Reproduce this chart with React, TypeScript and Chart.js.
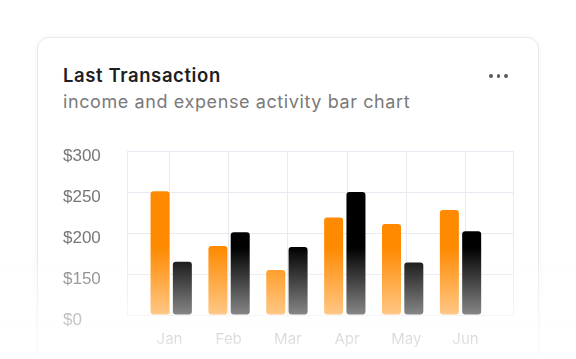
import React, { useEffect, useRef } from "react";
import { Chart, registerables } from "chart.js";

Chart.register(...registerables);

const months = ["Jan", "Feb", "Mar", "Apr", "May", "Jun"];
const income = [251, 184, 155, 219, 211, 228];
const expense = [165, 201, 183, 250, 164, 202];
const yTickValues = [100, 150, 200, 250, 300];
const yTickLabels = ["$0", "$150", "$200", "$250", "$300"];

const GRID = "#E7EAF0";
const UI_FONT = "Inter, 'Noto Sans', sans-serif";

export default function App() {
  const canvasRef = useRef<HTMLCanvasElement | null>(null);

  useEffect(() => {
    if (!canvasRef.current) return;
    const chart = new Chart(canvasRef.current, {
      type: "bar",
      data: {
        datasets: [
          {
            label: "Income",
            data: income.map((v, i) => ({ x: i, y: v })),
            backgroundColor: "#FF8A00",
            xAxisID: "xb",
            yAxisID: "y",
            base: 100,
          },
          {
            label: "Expense",
            data: expense.map((v, i) => ({ x: i, y: v })),
            backgroundColor: "#000000",
            xAxisID: "xb",
            yAxisID: "y",
            base: 100,
          },
        ],
      } as any,
      options: {
        responsive: false,
        animation: false,
        layout: { padding: { left: 63, right: 63, top: 151, bottom: 0 } },
        plugins: { legend: { display: false }, tooltip: { enabled: false } },
        datasets: {
          bar: {
            categoryPercentage: 0.771,
            barPercentage: 0.852,
            borderRadius: 3,
            borderSkipped: false,
          },
        },
        scales: {
          xb: {
            type: "linear",
            display: false,
            offset: false,
            min: -0.764,
            max: 5.907,
            ticks: { stepSize: 1, includeBounds: false },
            grid: { display: false, offset: false },
          },
          x: {
            type: "linear",
            position: "bottom",
            offset: false,
            min: -0.718,
            max: 5.802,
            ticks: {
              stepSize: 1,
              includeBounds: false,
              autoSkip: false,
              maxRotation: 0,
              padding: 15,
              color: "#8a8a8a",
              font: { family: UI_FONT, size: 15 },
              callback: (v: any) => (Number.isInteger(v) && months[v] ? months[v] : ""),
            },
            grid: { color: GRID, drawTicks: false, lineWidth: 1, offset: false },
            border: { display: false },
            afterFit: (s: any) => {
              s.height = 44;
            },
          },
          y: {
            type: "linear",
            position: "left",
            min: 100,
            max: 300,
            ticks: {
              stepSize: 50,
              padding: 0,
              crossAlign: "far",
              labelOffset: 5,
              color: "#777777",
              font: { family: "'Liberation Sans', Arial, sans-serif", size: 17 },
              callback: (v: any) => {
                const i = yTickValues.indexOf(Number(v));
                return i >= 0 ? yTickLabels[i] : "";
              },
            },
            grid: { color: GRID, drawTicks: false, lineWidth: 1 },
            border: { display: true, color: GRID, width: 1 },
            afterFit: (s: any) => {
              s.width = 64;
            },
          },
          y2: {
            type: "linear",
            position: "right",
            min: 0,
            max: 1,
            ticks: { display: false },
            grid: { display: false, drawTicks: false },
            border: { display: true, color: GRID, width: 1 },
            afterFit: (s: any) => {
              s.width = 0;
            },
          },
        } as any,
      },
    });
    return () => chart.destroy();
  }, []);

  return (
    <div
      style={{
        position: "absolute",
        left: 0,
        top: 0,
        width: 576,
        height: 359,
        overflow: "hidden",
        background: "#ffffff",
        fontFamily: UI_FONT,
      }}
    >
      <div
        style={{
          position: "absolute",
          left: 37,
          top: 37,
          width: 500,
          height: 400,
          border: "1px solid #EAEAEA",
          borderRadius: 12,
          boxShadow: "0 1px 6px rgba(0,0,0,0.05)",
          background: "#ffffff",
        }}
      />
      <div
        style={{
          position: "absolute",
          left: 63,
          top: 63,
          fontSize: 18.5,
          lineHeight: "24px",
          fontWeight: 600,
          letterSpacing: 0.6,
          color: "#1f1f1f",
          whiteSpace: "nowrap",
        }}
      >
        Last Transaction
      </div>
      <div
        style={{
          position: "absolute",
          left: 63,
          top: 91,
          fontSize: 18,
          lineHeight: "22px",
          fontWeight: 400,
          letterSpacing: 0.6,
          color: "#7a7a7a",
          whiteSpace: "nowrap",
        }}
      >
        income and expense activity bar chart
      </div>
      {[491, 498.5, 506].map((x) => (
        <div
          key={x}
          style={{
            position: "absolute",
            left: x - 1.6,
            top: 74.4,
            width: 3.2,
            height: 3.2,
            borderRadius: 2,
            background: "#5a5a5a",
          }}
        />
      ))}
      <canvas
        ref={canvasRef}
        width={576}
        height={359}
        style={{ position: "absolute", left: 0, top: 0, width: 576, height: 359 }}
      />
      <div
        style={{
          position: "absolute",
          left: 0,
          top: 247,
          width: 576,
          height: 112,
          background: "linear-gradient(to bottom, rgba(255,255,255,0), rgba(255,255,255,0.87))",
          pointerEvents: "none",
        }}
      />
    </div>
  );
}
